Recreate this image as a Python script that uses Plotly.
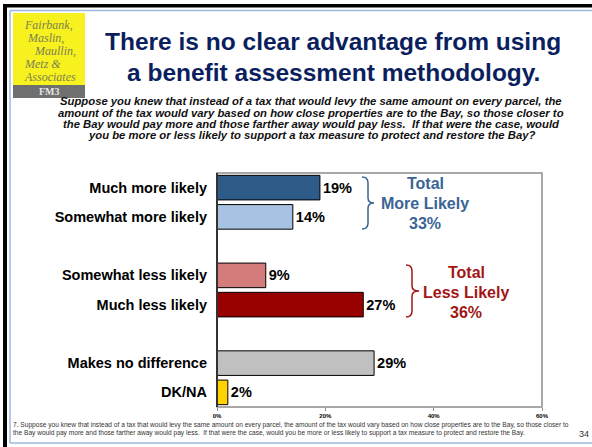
import plotly.graph_objects as go

# ---- data ----
categories = ["Much more likely", "Somewhat more likely", " ",
              "Somewhat less likely", "Much less likely", "  ",
              "Makes no difference", "DK/NA"]
values = [19, 14, None, 9, 27, None, 29, 2]
bar_colors = ["#2E5A88", "#A7C3E1", "#FFFFFF", "#D47C7C", "#990000",
              "#FFFFFF", "#C0C0C0", "#FFD200"]
x_ticks = [0, 20, 40, 60]
x_tick_labels = ["0%", "20%", "40%", "60%"]
total_more = 33
total_less = 36

W, H = 592, 447
L, R, T, B = 217, 50, 173, 40
PW, PH = W - L - R, H - T - B


def px(xp):
    return (xp - L) / PW


def py(yp):
    return (H - B - yp) / PH


FONT = "Liberation Sans, Arial, sans-serif"

fig = go.Figure()
fig.add_trace(go.Bar(
    x=values, y=categories, orientation="h",
    marker=dict(color=bar_colors, line=dict(color="#000000", width=1)),
    text=[f"{v}%" if v is not None else "" for v in values],
    textposition="outside", cliponaxis=False,
    textfont=dict(family=FONT, size=14.5, color="#000000", weight="bold"),
    width=0.84, hoverinfo="skip",
))

shapes = []
# slide frame
shapes.append(dict(type="rect", xref="paper", yref="paper", x0=px(3), x1=px(7), y0=py(447), y1=py(4),
                   fillcolor="#000000", line=dict(width=0), layer="below"))
shapes.append(dict(type="rect", xref="paper", yref="paper", x0=px(3), x1=px(592), y0=py(7.5), y1=py(4),
                   fillcolor="#000000", line=dict(width=0), layer="below"))
shapes.append(dict(type="line", xref="paper", yref="paper", x0=px(10), x1=px(592), y0=py(10.5), y1=py(10.5),
                   line=dict(color="#9DB9DC", width=1.5)))
shapes.append(dict(type="line", xref="paper", yref="paper", x0=px(10), x1=px(10), y0=py(10.5), y1=py(443),
                   line=dict(color="#9DB9DC", width=1.5)))
shapes.append(dict(type="line", xref="paper", yref="paper", x0=px(10), x1=px(592), y0=py(443), y1=py(443),
                   line=dict(color="#9DB9DC", width=1.5)))
# logo
shapes.append(dict(type="rect", xref="paper", yref="paper", x0=px(13), x1=px(85), y0=py(85), y1=py(13),
                   fillcolor="#F7F21F", line=dict(width=0)))
shapes.append(dict(type="rect", xref="paper", yref="paper", x0=px(13), x1=px(85), y0=py(98), y1=py(85),
                   fillcolor="#6F6F6F", line=dict(width=0)))
# plot frame
shapes.append(dict(type="rect", xref="paper", yref="paper", x0=0, x1=1, y0=0, y1=1,
                   line=dict(color="#8C8C8C", width=1.5)))
shapes.append(dict(type="line", xref="paper", yref="paper", x0=0, x1=0, y0=0, y1=1,
                   line=dict(color="#333333", width=2)))


def brace(x_top, y_top, y_bot, x_spine, x_tip):
    ym = (y_top + y_bot) / 2
    pts = [
        f"M {px(x_top)},{py(y_top)}",
        f"Q {px(x_spine)},{py(y_top)} {px(x_spine)},{py(y_top + 6)}",
        f"L {px(x_spine)},{py(ym - 5)}",
        f"Q {px(x_spine)},{py(ym)} {px(x_tip)},{py(ym)}",
        f"Q {px(x_spine)},{py(ym)} {px(x_spine)},{py(ym + 5)}",
        f"L {px(x_spine)},{py(y_bot - 6)}",
        f"Q {px(x_spine)},{py(y_bot)} {px(x_top)},{py(y_bot)}",
    ]
    return " ".join(pts)


shapes.append(dict(type="path", xref="paper", yref="paper", path=brace(362, 177, 229, 368, 374),
                   line=dict(color="#3A6494", width=1.5)))
shapes.append(dict(type="path", xref="paper", yref="paper", path=brace(406, 265, 317, 412, 419),
                   line=dict(color="#A31515", width=1.5)))

ann = []


def add_text(text, x, y, size, color="#000000", xanchor="center", bold=True, italic=False, family=FONT):
    ann.append(dict(text=text, x=px(x), y=py(y), xref="paper", yref="paper", xanchor=xanchor,
                    yanchor="middle", showarrow=False,
                    font=dict(family=family, size=size, color=color,
                              weight="bold" if bold else "normal",
                              style="italic" if italic else "normal")))


# title
add_text("There is no clear advantage from using", 333, 41, 24.5, "#0B1F5E")
add_text("a benefit assessment methodology.", 333, 72, 24.5, "#0B1F5E")

# subtitle
sub = ["Suppose you knew that instead of a tax that would levy the same amount on every parcel, the",
       "amount of the tax would vary based on how close properties are to the Bay, so those closer to",
       "the Bay would pay more and those farther away would pay less.  If that were the case, would",
       "you be more or less likely to support a tax measure to protect and restore the Bay?"]
for i, s in enumerate(sub):
    add_text(s, 311, 101 + i * 11.5, 11.3, "#111111", italic=True)

# logo text
SERIF = "Liberation Serif, Times New Roman, serif"
logo = [("Fairbank,", 22, 25), ("Maslin,", 25, 38), ("Maullin,", 32, 51), ("Metz &", 22, 64),
        ("Associates", 22, 77)]
for t, x, y in logo:
    add_text(t, x, y, 12, "#7E7E52", xanchor="left", bold=False, italic=True, family=SERIF)
add_text("FM3", 49, 91.5, 10, "#E6E6E6", bold=True, family=SERIF)

# totals
add_text("Total", 425, 183, 16, "#3A6494")
add_text("More Likely", 425, 203, 16, "#3A6494")
add_text(f"{total_more}%", 425, 223, 16, "#3A6494")
add_text("Total", 466, 272, 16, "#A31515")
add_text("Less Likely", 466, 292, 16, "#A31515")
add_text(f"{total_less}%", 466, 312, 16, "#A31515")

# footer
add_text("7. Suppose you knew that instead of a tax that would levy the same amount on every parcel, the amount of the tax would vary based on how close properties are to the Bay, so those closer to",
         11, 425, 6.6, "#333333", xanchor="left", bold=False)
add_text("the Bay would pay more and those farther away would pay less.  If that were the case, would you be more or less likely to support a tax measure to protect and restore the Bay.",
         11, 433, 6.6, "#333333", xanchor="left", bold=False)
add_text("34", 584, 434, 9, "#333333", bold=False)

fig.update_layout(
    width=W, height=H,
    margin=dict(l=L, r=R, t=T, b=B),
    paper_bgcolor="#FFFFFF", plot_bgcolor="#FFFFFF",
    showlegend=False, bargap=0.16,
    shapes=shapes, annotations=ann,
    font=dict(family=FONT),
)
fig.update_xaxes(range=[0, 60], tickvals=x_ticks, ticktext=x_tick_labels,
                 showgrid=False, zeroline=False, showline=False,
                 ticks="outside", ticklen=3, tickcolor="#8C8C8C",
                 tickfont=dict(family=FONT, size=6, color="#000000", weight="bold"))
fig.update_yaxes(categoryorder="array", categoryarray=categories, autorange="reversed",
                 showgrid=False, zeroline=False, showline=False, ticks="",
                 ticklabelstandoff=9,
                 tickfont=dict(family=FONT, size=14.5, color="#000000", weight="bold"))

fig.write_html("out.html", config={"displayModeBar": False},
               post_script="document.body.style.margin='0';document.body.style.overflow='hidden';")
